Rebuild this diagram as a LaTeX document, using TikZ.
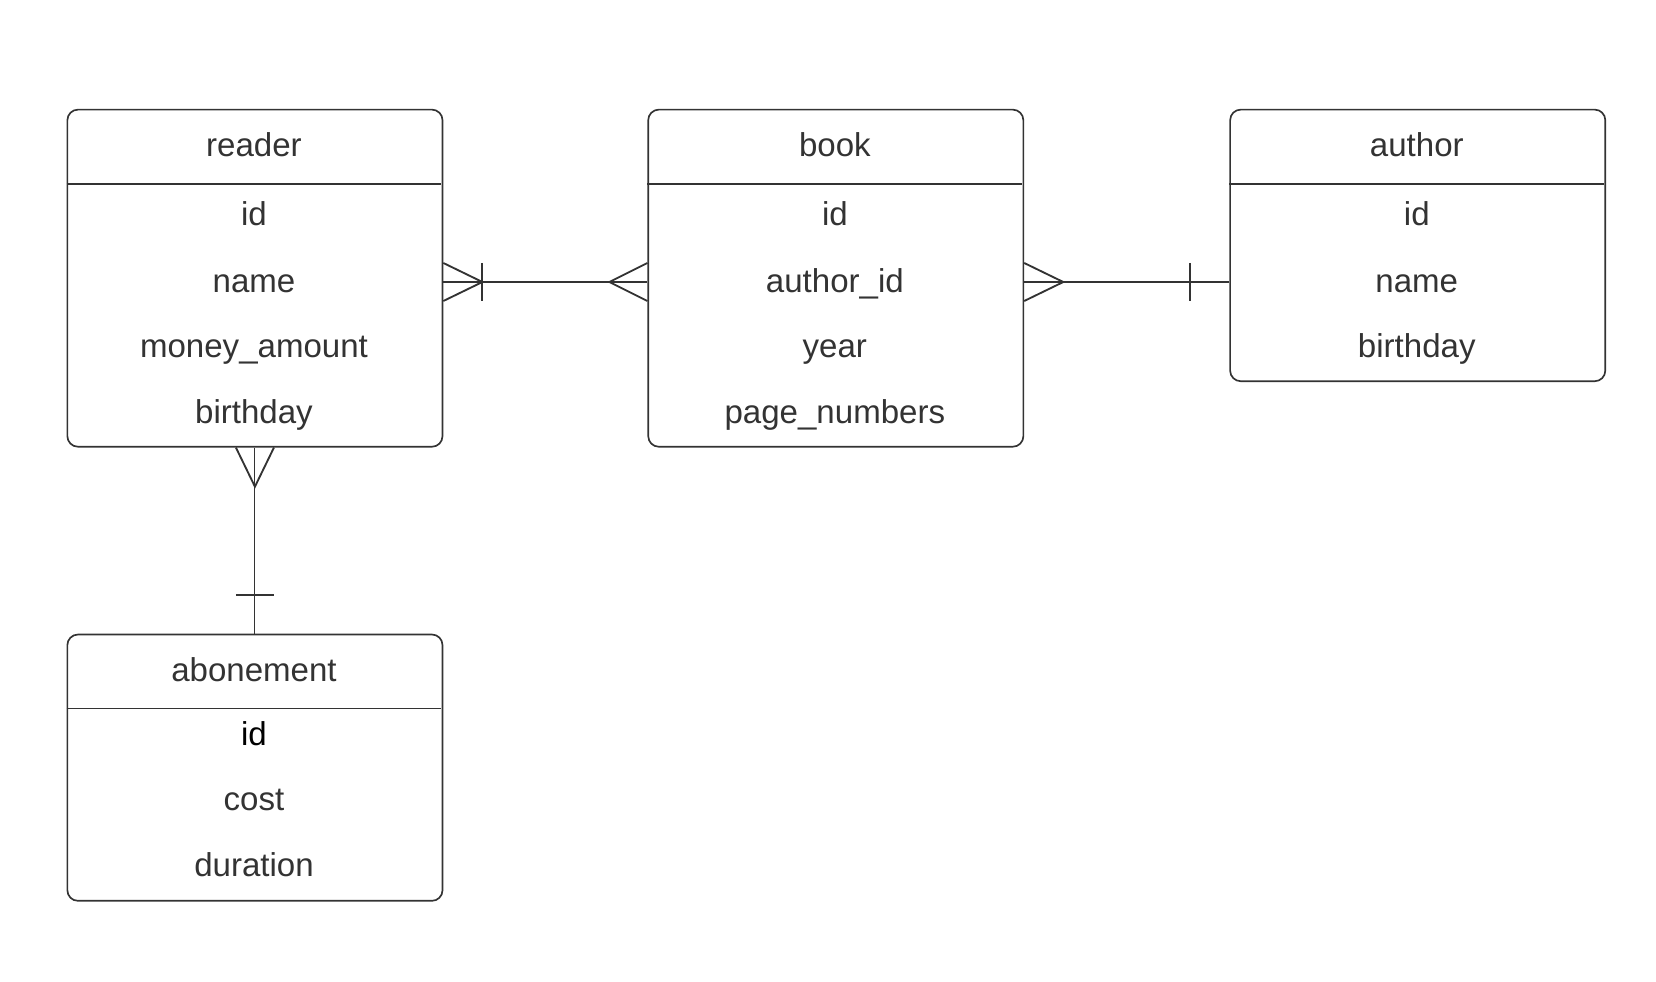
\documentclass[tikz,border=0pt]{standalone}
\usepackage{fontspec}
\setmainfont{Liberation Sans}
\usetikzlibrary{calc}
\definecolor{ink}{HTML}{333333}
\begin{document}
\begin{tikzpicture}[x=0.01cm,y=-0.01cm,
  entity/.style={draw=ink, line width=0.45pt, rounded corners=0.1cm, anchor=north west, minimum width=3.55cm, inner sep=0pt},
  lbl/.style={text=ink, font=\fontsize{8.9}{10}\selectfont, inner sep=0pt, text height=0.73em, text depth=0pt, yshift=0.02cm},
  sep/.style={draw=ink, line width=0.45pt},
  conn/.style={draw=ink, line width=0.3pt},
  crow/.style={draw=ink, line width=0.5pt}]
\useasboundingbox (0,0) rectangle (1568,929);

% entities
\node[entity, minimum height=3.19cm] (reader) at (63,103) {};
\node[entity, minimum height=3.19cm] (book) at (613,103) {};
\node[entity, minimum height=2.57cm] (author) at (1164,103) {};
\node[entity, minimum height=2.52cm] (abon) at (63,600) {};

% header separators
\draw[sep] (63,174) -- (418,174);
\draw[sep] (613,174) -- (968,174);
\draw[sep] (1164,174) -- (1519,174);
\draw[sep, line width=0.3pt] (63,671) -- (418,671);

% reader
\node[lbl] (rhead) at (240.5,137) {reader};
\node[lbl] (rid) at (240.5,203) {id};
\node[lbl] (rname) at (240.5,266) {name};
\node[lbl] (rmoney) at (240.5,328) {money\_amount};
\node[lbl] (rbirth) at (240.5,390) {birthday};

% book
\node[lbl] (bhead) at (790.5,137) {book};
\node[lbl] (bid) at (790.5,203) {id};
\node[lbl] (bauth) at (790.5,266) {author\_id};
\node[lbl] (byear) at (790.5,328) {year};
\node[lbl] (bpages) at (790.5,390) {page\_numbers};

% author
\node[lbl] (ahead) at (1341.5,137) {author};
\node[lbl] (aid) at (1341.5,203) {id};
\node[lbl] (aname) at (1341.5,266) {name};
\node[lbl] (abirth) at (1341.5,328) {birthday};

% abonement
\node[lbl] (abhead) at (240.5,634) {abonement};
\node[lbl, text=black] (abid) at (240.5,695) {id};
\node[lbl] (abcost) at (240.5,757) {cost};
\node[lbl] (abdur) at (240.5,819) {duration};

% anchor points of connectors
\coordinate (p1) at (reader.east |- 0,267);
\coordinate (p2) at (book.west |- 0,267);
\coordinate (p3) at (book.east |- 0,267);
\coordinate (p4) at (author.west |- 0,267);
\coordinate (p5) at (reader.south);
\coordinate (p6) at (abon.north);

% reader -- book
\draw[conn] (p1) -- (p2);
\draw[crow] ($(p1)+(0,-18)$) -- ($(p1)+(37,0)$) -- ($(p1)+(0,18)$);
\draw[crow] ($(p1)+(37,-18)$) -- ($(p1)+(37,18)$);
\draw[crow] ($(p2)+(0,-18)$) -- ($(p2)+(-36,0)$) -- ($(p2)+(0,18)$);

% book -- author
\draw[conn] (p3) -- (p4);
\draw[crow] ($(p3)+(0,-18)$) -- ($(p3)+(37,0)$) -- ($(p3)+(0,18)$);
\draw[crow] ($(p4)+(-37,-18)$) -- ($(p4)+(-37,18)$);

% reader -- abonement
\draw[conn] (p5) -- (p6);
\draw[crow] ($(p5)+(-18,0)$) -- ($(p5)+(0,37)$) -- ($(p5)+(18,0)$);
\draw[crow] ($(p6)+(-18,-37)$) -- ($(p6)+(18,-37)$);
\end{tikzpicture}
\end{document}
